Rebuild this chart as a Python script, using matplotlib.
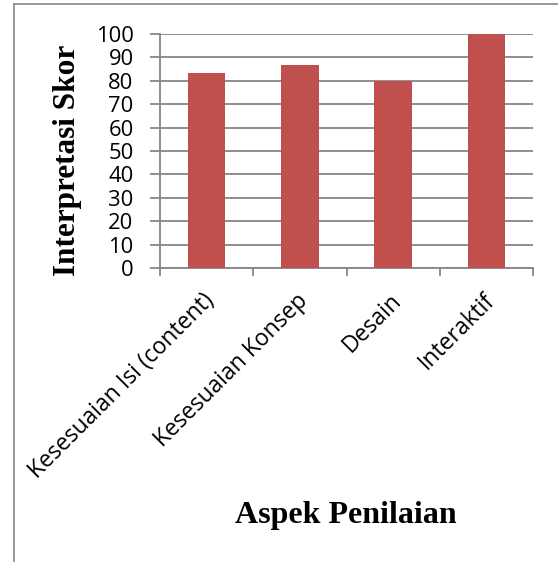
import numpy as np
import matplotlib.pyplot as plt
import matplotlib.transforms as mtransforms
from matplotlib.lines import Line2D

# data
aspek = ['Kesesuaian Isi (content)', 'Kesesuaian Konsep', 'Desain', 'Interaktif']
skor = [83.3, 86.7, 80, 100]
yticks = list(range(0, 101, 10))

W, H = 558, 562
fig = plt.figure(figsize=(W / 100, H / 100), dpi=100)
ax = fig.add_axes([160 / W, 1 - 268 / H, (533 - 160) / W, (268 - 34) / H])

x = np.arange(len(aspek))
ax.bar(x, skor, width=0.4, color='#C0504D', zorder=3)

ax.set_xlim(-0.5, len(aspek) - 0.5)
ax.set_ylim(0, 100)
ax.set_yticks(yticks)
ax.set_yticklabels([str(v) for v in yticks], fontsize=15.8, family='Open Sans')
ax.yaxis.grid(True, color='#868686', linewidth=1.3, zorder=0)

# ticks at category boundaries, labels at the centres
ax.set_xticks(np.arange(len(aspek) + 1) - 0.5)
ax.set_xticklabels([])
ax.set_xticks(x, minor=True)
ax.set_xticklabels(aspek, minor=True, rotation=45, ha='right', va='top',
                   rotation_mode='anchor', fontsize=16.5, family='Open Sans')
ax.tick_params(axis='x', which='minor', length=0, pad=15)
ax.tick_params(axis='x', which='major', length=6, width=1.3, color='#868686')
ax.tick_params(axis='y', length=7, width=1.3, color='#868686', pad=12)

# nudge the rotated labels a little to the left
shift = mtransforms.ScaledTranslation(-4 / 100, 0, fig.dpi_scale_trans)
for lbl in ax.get_xticklabels(minor=True):
    lbl.set_transform(lbl.get_transform() + shift)

for s in ['top', 'right']:
    ax.spines[s].set_visible(False)
for s in ['left', 'bottom']:
    ax.spines[s].set_color('#868686')
    ax.spines[s].set_linewidth(1.3)

fig.text(67 / W, 1 - 160 / H, 'Interpretasi Skor', rotation=90, ha='center', va='center',
         fontsize=22.5, fontweight='bold', family='Liberation Serif')
fig.text(346 / W, 1 - 515 / H, 'Aspek Penilaian', ha='center', va='center',
         fontsize=23, fontweight='bold', family='Liberation Serif')

# outer frame, only top and left edges are visible
fig.add_artist(Line2D([14 / W, 1], [1 - 4 / H, 1 - 4 / H], color='#888888', linewidth=1.2))
fig.add_artist(Line2D([14 / W, 14 / W], [0, 1 - 4 / H], color='#888888', linewidth=1.2))

fig.savefig('out.png', dpi=100)
